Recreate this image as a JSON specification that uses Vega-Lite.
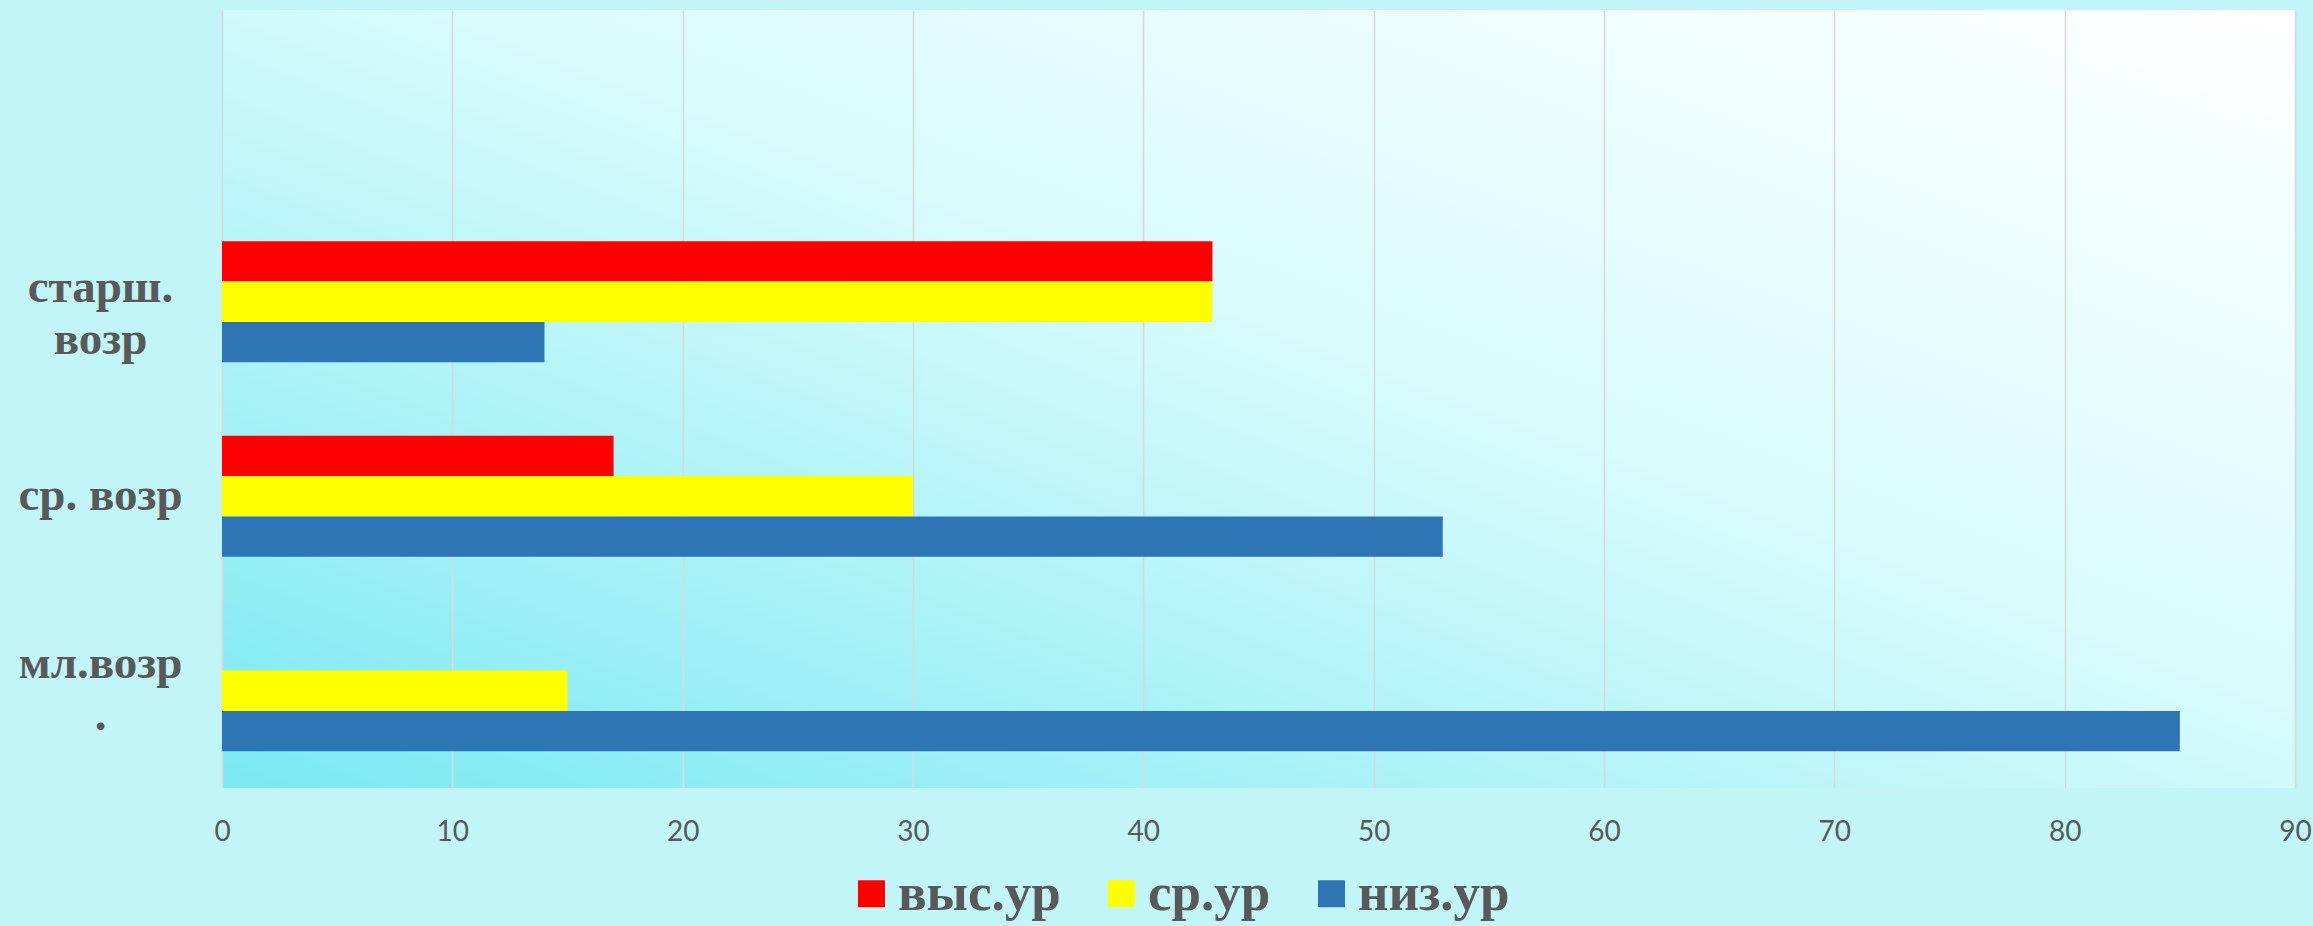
{
  "$schema": "https://vega.github.io/schema/vega-lite/v6.json",
  "autosize": {"type": "none"},
  "width": 2073,
  "height": 778,
  "padding": {"left": 222, "top": 10, "right": 18, "bottom": 138},
  "background": "#c2f5f8",
  "view": {
    "stroke": null,
    "fill": {
      "gradient": "linear",
      "x1": 1, "y1": 0, "x2": 0, "y2": 1,
      "stops": [
        {"offset": 0, "color": "#ffffff"},
        {"offset": 0.45, "color": "#d8fbfc"},
        {"offset": 1, "color": "#7ae9f2"}
      ]
    }
  },
  "data": {
    "values": [
      {"group": "старш. возр", "level": "выс.ур", "value": 43},
      {"group": "старш. возр", "level": "ср.ур", "value": 43},
      {"group": "старш. возр", "level": "низ.ур", "value": 14},
      {"group": "ср. возр", "level": "выс.ур", "value": 17},
      {"group": "ср. возр", "level": "ср.ур", "value": 30},
      {"group": "ср. возр", "level": "низ.ур", "value": 53},
      {"group": "мл.возр.", "level": "выс.ур", "value": 0},
      {"group": "мл.возр.", "level": "ср.ур", "value": 15},
      {"group": "мл.возр.", "level": "низ.ур", "value": 85}
    ]
  },
  "mark": {"type": "bar"},
  "encoding": {
    "y": {
      "field": "group",
      "type": "nominal",
      "scale": {
        "domain": [" ", "старш. возр", "ср. возр", "мл.возр."],
        "paddingInner": 0.378,
        "paddingOuter": 0.189
      },
      "axis": {
        "title": null,
        "domain": false,
        "ticks": false,
        "grid": false,
        "labelExpr": "datum.value == 'старш. возр' ? ['старш.', 'возр'] : datum.value == 'мл.возр.' ? ['мл.возр', '.'] : datum.value",
        "labelFont": "Liberation Serif",
        "labelFontWeight": "bold",
        "labelFontSize": 47,
        "labelLineHeight": 52,
        "labelColor": "#595959",
        "labelAlign": "center",
        "labelBaseline": "middle",
        "labelPadding": 122,
        "labelOffset": {
          "condition": [
            {"test": "datum.value == 'старш. возр'", "value": -14},
            {"test": "datum.value == 'мл.возр.'", "value": -27}
          ],
          "value": 0
        }
      }
    },
    "yOffset": {
      "field": "level",
      "type": "nominal",
      "sort": ["выс.ур", "ср.ур", "низ.ур"],
      "scale": {"paddingInner": 0, "paddingOuter": 0}
    },
    "x": {
      "field": "value",
      "type": "quantitative",
      "scale": {"domain": [0, 90], "nice": false},
      "axis": {
        "title": null,
        "values": [0, 10, 20, 30, 40, 50, 60, 70, 80, 90],
        "domain": false,
        "ticks": false,
        "grid": true,
        "gridColor": "#d9d9d9",
        "gridWidth": 1.6,
        "labelFont": "Lato",
        "labelFontSize": 28,
        "labelColor": "#595959",
        "labelPadding": 30,
        "labelFlush": false
      }
    },
    "color": {
      "field": "level",
      "type": "nominal",
      "sort": ["выс.ур", "ср.ур", "низ.ур"],
      "scale": {
        "domain": ["выс.ур", "ср.ур", "низ.ур"],
        "range": ["#ff0000", "#ffff00", "#2e75b6"]
      },
      "legend": {
        "title": null,
        "orient": "none",
        "direction": "horizontal",
        "legendX": 623,
        "legendY": 857,
        "padding": 0,
        "symbolType": "square",
        "symbolSize": 729,
        "symbolStrokeWidth": 0,
        "symbolOpacity": 1,
        "labelOffset": 0,
        "columnPadding": 34,
        "labelFont": "Liberation Serif",
        "labelFontWeight": "bold",
        "labelFontSize": 53,
        "labelColor": "#595959",
        "labelLimit": 400
      }
    }
  }
}
